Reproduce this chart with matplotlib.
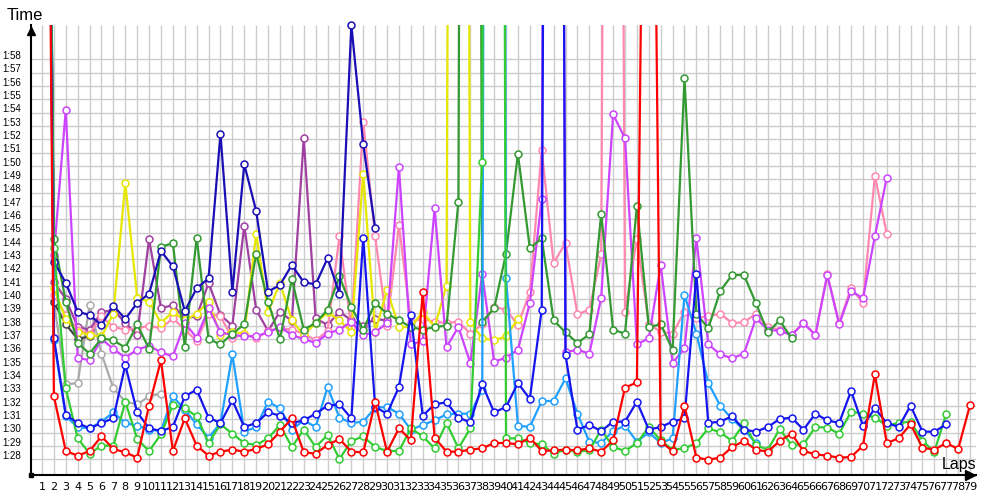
import matplotlib
matplotlib.use("Agg")
import matplotlib.pyplot as plt
import numpy as np

# lap times in seconds, every list starts at lap 1
red = [195, 92.4, 88.3, 87.95, 88.3, 89.4, 88.45, 88.2, 87.8, 91.7, 95.1, 88.3, 90.75, 88.7, 87.95, 88.25, 88.4, 88.25,
       88.45, 88.8, 89.75, 90.75, 88.2, 88.1, 88.75, 89.2, 88.25, 88.2, 91.95, 88.25, 90.0, 89.1, 100.2, 89.3, 88.25,
       88.25, 88.4, 88.5, 88.9,
       88.9, 88.8, 89.3, 88.3, 88.35, 88.4, 88.35, 88.5, 88.25, 89.1, 93.05, 93.45, 175, 89.0, 88.3, 91.7, 87.8, 87.65,
       87.8, 88.6, 89.05,
       88.4, 88.25, 89.05, 89.6, 88.3, 88.05, 87.95, 87.8, 87.85, 88.7, 94.05, 88.9, 89.25, 90.3, 88.55, 88.4, 88.9,
       88.45, 91.75]
green = [195, 103.5, 93.0, 89.25, 88.1, 88.7, 88.7, 92.0, 89.2, 88.3, 89.55, 91.75, 91.5, 90.9, 88.9, 90.3, 89.6, 88.9,
         88.75, 89.25, 90.25, 88.6, 89.9, 88.6, 89.5, 87.7, 89.05, 89.4, 88.6, 88.3, 88.3, 90.0, 89.4, 88.5, 90.4, 88.5,
         90.0, 110.0, 400,
         89.25, 89.25, 88.9, 88.8, 88.1, 88.4, 88.25, 88.35, 89.9, 88.6, 88.3, 88.9, 90.1, 89.1, 88.4, 88.5, 88.9, 90.0,
         89.7, 89.05, 90.4,
         88.75, 88.4, 89.95, 88.75, 88.8, 90.1, 90.05, 89.6, 91.25, 91.1, 90.8, 90.2, 90.4, 90.5, 89.05, 88.25, 91.1]
light_blue = [195, 96.6, 90.9, 90.1, 90.0, 90.5, 91.2, 90.4, 90.2, 89.9, 89.8, 92.4, 91.4, 90.3, 89.3, 90.4, 95.55, 89.75,
              90.1, 92.0, 91.5, 89.9, 90.6, 90.1, 93.1, 90.8, 90.4, 90.5, 91.55, 91.6, 91.1, 89.9, 90.25, 90.6, 91.05,
              91.1, 91.1, 92.9, 400,
              101.25, 90.2, 90.1, 92.05, 92.05, 93.75, 91.1, 89.0, 88.9, 89.8, 90.2, 89.0, 89.7, 88.9, 89.25, 100.0,
              97.1, 93.4, 91.7, 90.7, 89.9, 88.9]
blue = [195, 96.8, 91.0, 90.4, 90.0, 90.4, 90.75, 94.75, 91.2, 90.0, 89.8, 90.1, 92.4, 92.9, 90.8, 90.4, 92.1, 90.1,
        90.4, 91.2, 90.95, 90.4, 90.6, 91.1, 91.7, 91.8, 90.75, 104.3, 91.6, 91.1, 93.1, 98.5, 90.95, 91.8, 91.95, 90.8,
        90.45, 93.3, 91.2,
        91.6, 93.4, 92.2, 98.9, 300, 95.5, 89.9, 90.25, 89.8, 90.5, 90.5, 92.0, 89.9, 90.1, 90.5, 90.75, 101.55, 90.4,
        90.5, 90.9, 89.9,
        89.75, 90.1, 90.7, 90.8, 89.9, 91.1, 90.6, 90.4, 92.8, 90.2, 91.5, 90.4, 90.1, 91.7, 89.75, 89.75, 90.3]
navy = [195, 102.5, 100.9, 98.75, 98.5, 97.75, 99.2, 98.2, 99.4, 100.1, 103.3, 102.15, 98.8, 100.5, 101.25, 112.1,
        100.25, 109.8, 106.3, 100.25, 100.75, 102.25, 100.95, 100.8, 102.75, 100.1, 120.25, 111.3, 105.0]
purple = [195, 101.0, 99.7, 97.6, 97.4, 98.7, 98.9, 97.9, 97.0, 104.2, 99.0, 99.25, 98.25, 98.4, 100.9, 98.5, 97.7,
          105.2, 98.9, 97.3, 98.75, 98.05, 111.75, 98.25, 97.75, 98.75, 98.1, 97.7, 98.2, 98.1]
violet = [195, 103.0, 113.9, 95.3, 95.1, 96.7, 95.95, 95.3, 95.9, 96.2, 95.7, 95.4,
          97.9, 96.8, 99.0, 97.2, 97.0, 96.9, 96.9, 97.2, 97.6, 97.0, 96.7, 96.4, 97.1, 97.4, 98.0, 97.0, 97.2, 97.9,
          109.6, 96.3, 96.55, 106.5, 96.1, 97.6, 94.9, 101.6, 95.0, 95.3, 95.9, 99.4, 107.2, 300, 95.7, 95.9, 95.6,
          99.8, 113.55, 111.75,
          96.3, 96.75, 102.25, 94.9, 96.0, 104.25, 96.3, 95.55, 95.25, 95.6, 98.25, 97.4, 97.3, 97.0, 97.9, 97.0,
          101.5, 97.8, 100.3, 99.75, 104.4, 108.8]
pink = [195, 100.0, 98.5, 97.4, 97.1, 98.4, 97.6, 97.4, 97.5, 97.7, 97.5, 98.25, 97.4, 96.55, 98.6, 98.4, 96.75, 97.1,
        96.75, 97.3, 97.5, 97.4, 97.1, 96.6, 97.3, 104.4, 97.5, 113.0, 104.4, 97.7, 105.25, 98.0, 98.2, 98.0, 97.9,
        98.0, 97.1, 97.8, 99.1, 98.9,
        97.75, 100.2, 110.9, 102.4, 103.9, 98.55, 98.9, 103.05, 280, 98.75, 104.2, 97.8, 97.25, 97.1, 98.75, 98.3,
        98.4, 98.6, 97.9, 97.95,
        98.6, 97.6, 97.4, 97.0, 97.9, 97.0, 101.55, 97.9, 100.55, 99.4, 108.95, 104.6]
yellow = [195, 100.5, 98.2, 97.25, 97.0, 96.9, 98.6, 108.4, 99.8, 99.5, 97.9, 98.75, 98.1, 98.6, 99.5, 97.0, 97.25,
          97.1, 104.6, 98.7, 100.9, 98.1, 97.0, 97.9, 98.7, 98.1, 97.25, 109.1, 97.2, 100.4, 97.6, 97.6, 98.75, 97.6,
          100.7, 335, 98.0, 96.75, 96.6, 96.9, 98.2]
forest = [195, 104.2, 99.5, 96.4, 95.6, 96.75, 96.6, 96.05, 97.8, 95.95, 103.6, 103.9, 96.1, 104.3, 96.7, 96.3, 97.1,
          97.8,
          103.1, 99.5, 96.7, 101.2, 97.4, 97.9, 98.9, 101.4, 99.1, 97.4, 99.4, 98.6, 98.1, 97.6, 97.4, 97.6, 97.7, 107.0,
          370, 98.0, 99.0, 103.1, 110.6,
          103.5, 104.25, 98.1, 97.2, 96.4, 97.05, 106.1, 97.4, 97.1, 106.7, 97.6, 97.8, 95.9, 116.25, 98.6, 97.5, 100.3,
          101.5, 101.5, 99.4, 97.2, 98.1, 96.75]
gray = [195, 99.5, 93.3, 93.4, 99.25, 95.6, 93.0, 92.0, 91.8, 92.4, 92.6]
dark_gray = [195, 99.45, 97.8, 96.7, 96.9]

series = [
    (gray, "#aaaaaa"),
    (dark_gray, "#444444"),
    (purple, "#a040a0"),
    (pink, "#ff88b0"),
    (yellow, "#e6e600"),
    (violet, "#cc44ff"),
    (forest, "#339933"),
    (navy, "#1a0fb5"),
    (light_blue, "#20a0ff"),
    (green, "#33cc33"),
    (blue, "#1515ee"),
    (red, "#ff0000"),
]

n_laps = 79
tick_secs = np.arange(88, 119)
tick_labels = [f"1:{s - 60:02d}" for s in tick_secs]

y_lo, y_hi = 86.5, 120.25
x_lo, x_hi = 0.076, 79.5

fig = plt.figure(figsize=(10, 5), dpi=100)
ax = fig.add_axes([0.031, 0.05, 0.945, 0.9])
ax.set_xlim(x_lo, x_hi)
ax.set_ylim(y_lo, y_hi)

# grid
laps = np.arange(1, n_laps + 1)
ax.vlines(laps, y_lo, y_hi, color="#cccccc", lw=1, zorder=0)
ax.hlines(tick_secs - 0.33, x_lo, x_hi, color="#cccccc", lw=1, zorder=0)

for vals, col in series:
    v = np.array(vals, dtype=float)
    x = np.arange(1, len(v) + 1)
    ax.plot(x, v, color=col, lw=1.6, zorder=2, solid_joinstyle="miter")
    keep = v <= 120.5
    ax.plot(x[keep], v[keep], ls="none", marker="o", ms=5, mfc="white", mec=col, mew=1.1,
            zorder=2, clip_on=False)

ax.set_xticks(laps)
ax.set_xticklabels([str(i) for i in laps], fontsize=8, family="DejaVu Sans")
ax.set_yticks(tick_secs)
ax.set_yticklabels(tick_labels, fontsize=7, family="Liberation Sans")
ax.tick_params(axis="both", length=0)
ax.tick_params(axis="x", pad=5)
ax.tick_params(axis="y", pad=7)

for s in ["top", "right"]:
    ax.spines[s].set_visible(False)
ax.spines["left"].set_linewidth(1.5)
ax.spines["bottom"].set_linewidth(1.5)

# axis arrows
fig.add_artist(plt.Line2D([0.031], [0.938], marker="^", ms=6, color="black", transform=fig.transFigure))
fig.add_artist(plt.Line2D([0.970], [0.05], marker=">", ms=7, color="black", transform=fig.transFigure))
fig.add_artist(plt.Line2D([0.031], [0.05], marker="s", ms=3, color="black", transform=fig.transFigure))

fig.text(0.025, 0.97, "Time", fontsize=12, family="Liberation Sans", ha="center", va="center")
fig.text(0.959, 0.07, "Laps", fontsize=11.5, family="Liberation Sans", ha="center", va="center")

fig.savefig("out.png", dpi=100)
